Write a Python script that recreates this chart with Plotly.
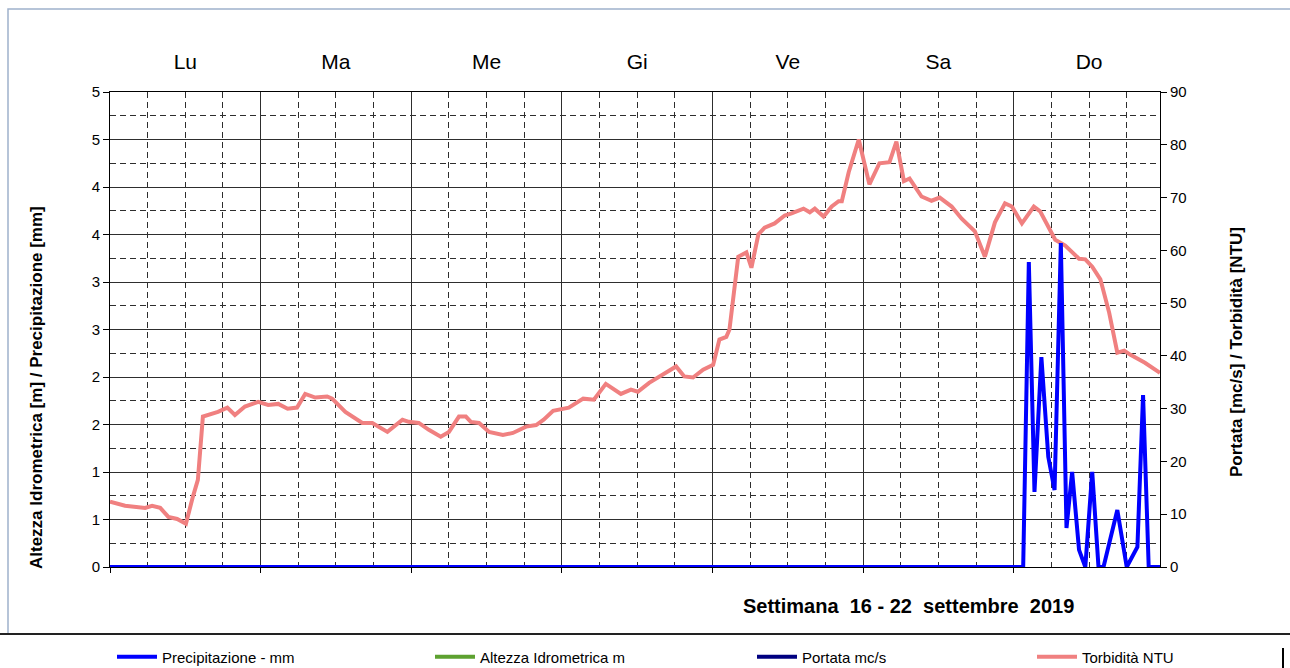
import plotly.graph_objects as go

# hours from Monday 00:00
days = ["Lu", "Ma", "Me", "Gi", "Ve", "Sa", "Do"]

torb_hours = [0.0, 2.4, 5.6, 6.7, 8.0, 9.3, 10.7, 12.1, 13.2, 14.0, 14.8, 15.6, 17.2, 18.7,
              19.9, 21.5, 23.6, 25.2, 26.8, 28.3, 29.8, 31.1, 32.7, 34.6, 35.4, 37.5, 40.2,
              41.8, 44.2, 46.6, 47.6, 49.2, 50.8, 52.7, 54.0, 55.6, 56.7, 57.5, 58.8, 60.4,
              62.6, 64.2, 66.3, 67.9, 69.1, 70.6, 72.3, 73.1, 75.4, 77.1, 79.0, 81.4, 83.0,
              84.1, 85.9, 88.1, 90.2, 91.5, 92.9, 94.5, 96.1, 97.1, 98.2, 98.7, 100.1, 101.4,
              102.2, 103.3, 104.3, 105.9, 107.5, 108.6, 110.5, 111.5, 112.3, 113.7, 115.0,
              116.1, 116.6, 117.7, 119.3, 121.0, 122.6, 124.2, 125.3, 126.5, 127.4, 129.3,
              130.9, 132.2, 134.1, 135.7, 137.8, 139.4, 141.0, 142.6, 143.7, 145.3, 147.2,
              148.2, 150.6, 152.2, 154.4, 155.4, 156.5, 157.8, 159.2, 160.5, 161.6, 162.6,
              164.9, 167.3]
torb_ntu = [12.4, 11.6, 11.2, 11.6, 11.2, 9.5, 9.1, 8.2, 13.3, 16.5, 28.5, 28.8, 29.4, 30.2,
            28.8, 30.4, 31.3, 30.7, 30.9, 30.0, 30.2, 32.8, 32.1, 32.3, 31.9, 29.4, 27.3,
            27.3, 25.6, 27.9, 27.5, 27.3, 26.0, 24.7, 25.6, 28.5, 28.5, 27.5, 27.3, 25.6,
            25.0, 25.4, 26.6, 26.9, 27.9, 29.6, 30.0, 30.2, 31.9, 31.7, 34.7, 32.8, 33.6,
            33.2, 34.9, 36.6, 38.0, 36.1, 35.9, 37.4, 38.3, 43.1, 43.6, 45.0, 58.8, 59.6,
            56.7, 63.0, 64.3, 65.1, 66.6, 67.0, 67.9, 67.2, 67.9, 66.4, 68.3,
            69.3, 69.3, 74.8, 81.0, 72.5, 76.5, 76.7, 80.6, 73.1, 73.6, 70.2,
            69.4, 70.0, 68.3, 66.0, 63.6, 58.8, 65.3, 68.9, 68.3, 65.1, 68.3,
            67.4, 62.0, 60.9, 58.4, 58.3, 56.9, 54.5, 48.2, 40.6, 41.0, 40.2,
            38.7, 36.8]

prec_hours = [0.0, 145.5, 146.4, 147.3, 148.4, 149.5, 150.5, 151.5, 152.4, 153.3, 154.4,
              155.4, 156.5, 157.5, 158.3, 160.5, 162.0, 163.7, 164.6, 165.5, 167.3]
prec_mm = [0, 0, 3.21, 0.79, 2.21, 1.16, 0.81, 3.41, 0.41, 1.00, 0.18,
           0, 1.00, 0, 0, 0.60, 0, 0.21, 1.81, 0, 0]

left_tickvals = [0, 0.5, 1, 1.5, 2, 2.5, 3, 3.5, 4, 4.5, 5]
left_ticktext = ["0", "1", "1", "2", "2", "3", "3", "4", "4", "5", "5"]

font = "Liberation Sans, Arial, sans-serif"
grid_col = "#2e2e2e"

fig = go.Figure()

fig.add_trace(go.Scatter(x=prec_hours, y=prec_mm, mode="lines", name="Precipitazione - mm",
                         line=dict(color="#0000ff", width=4), yaxis="y2", legend="legend"))
fig.add_trace(go.Scatter(x=[None], y=[None], mode="lines", name="Altezza Idrometrica m",
                         line=dict(color="#5da130", width=4), xaxis="x2", yaxis="y2",
                         legend="legend2"))
fig.add_trace(go.Scatter(x=[None], y=[None], mode="lines", name="Portata mc/s",
                         line=dict(color="#000080", width=4), xaxis="x2", legend="legend3"))
fig.add_trace(go.Scatter(x=torb_hours, y=torb_ntu, mode="lines", name="Torbidità NTU",
                         line=dict(color="#f08080", width=4), legend="legend4"))


def px_x(p):
    return (p - 110) / 1050


def px_y(p):
    return (567 - p) / 475


# legends sit in the strip under the black line
legend_common = dict(orientation="h", yanchor="middle", y=px_y(657), xanchor="left",
                     font=dict(family=font, size=15, color="#000"), bgcolor="rgba(0,0,0,0)",
                     itemwidth=40)

fig.update_layout(
    width=1290,
    height=668,
    margin=dict(l=110, r=130, t=92, b=101, autoexpand=False),
    paper_bgcolor="white",
    plot_bgcolor="white",
    font=dict(family=font, size=15, color="#000"),
    showlegend=True,
    legend=dict(legend_common, x=px_x(112)),
    legend2=dict(legend_common, x=px_x(430)),
    legend3=dict(legend_common, x=px_x(752)),
    legend4=dict(legend_common, x=px_x(1032)),
    xaxis=dict(
        range=[0, 167.3], automargin=False,
        tick0=0, dtick=24,
        showticklabels=False,
        ticks="outside", ticklen=5, tickcolor="#000",
        showgrid=True, gridcolor=grid_col, gridwidth=1,
        minor=dict(tick0=0, dtick=6, showgrid=True, gridcolor=grid_col,
                   griddash="6px,4px", gridwidth=1),
        showline=True, linecolor="#000", linewidth=1, mirror=True,
        zeroline=False,
    ),
    xaxis2=dict(
        overlaying="x", side="top", range=[0, 167.3], automargin=False,
        tickvals=[24 * i + 12 for i in range(len(days))], ticktext=days,
        ticks="outside", ticklen=14, tickcolor="rgba(0,0,0,0)",
        tickfont=dict(size=21, family=font),
        showgrid=False, showline=False, zeroline=False,
    ),
    yaxis=dict(
        side="right", range=[0, 90], dtick=10, automargin=False,
        ticks="outside", ticklen=6, tickcolor="#000",
        showgrid=False, zeroline=False,
        showline=True, linecolor="#000", linewidth=1,
    ),
    yaxis2=dict(
        overlaying="y", side="left", range=[0, 5], automargin=False,
        tickvals=left_tickvals, ticktext=left_ticktext,
        ticks="outside", ticklen=6, tickcolor="#000",
        showgrid=True, gridcolor=grid_col, gridwidth=1,
        minor=dict(tick0=0, dtick=0.25, showgrid=True, gridcolor=grid_col,
                   griddash="6px,4px", gridwidth=1),
        zeroline=False,
        showline=True, linecolor="#000", linewidth=1,
    ),
    annotations=[
        dict(text="<b>Settimana  16 - 22  settembre  2019</b>", xref="paper", yref="paper",
             x=px_x(908), y=px_y(606), xanchor="center", yanchor="middle",
             showarrow=False, font=dict(size=20, family=font)),
        # axis titles, placed where the original puts them (not centred on the plot)
        dict(text="<b>Altezza Idrometrica [m] / Precipitazione [mm]</b>", xref="paper",
             yref="paper", x=px_x(36), y=px_y(388), xanchor="center", yanchor="middle",
             textangle=-90, showarrow=False, font=dict(size=17, family=font)),
        dict(text="<b>Portata [mc/s] / Torbidità [NTU]</b>", xref="paper",
             yref="paper", x=px_x(1237), y=px_y(352), xanchor="center", yanchor="middle",
             textangle=-90, showarrow=False, font=dict(size=17, family=font)),
    ],
    shapes=[
        # outer frame of the chart area
        dict(type="rect", xref="paper", yref="paper", x0=px_x(8), x1=px_x(1300),
             y0=px_y(634), y1=px_y(9), line=dict(color="#9fb1cc", width=1.5)),
        dict(type="line", xref="paper", yref="paper", x0=px_x(0), x1=px_x(1290),
             y0=px_y(634), y1=px_y(634), line=dict(color="#222", width=2)),
        dict(type="line", xref="paper", yref="paper", x0=px_x(1283), x1=px_x(1283),
             y0=px_y(648), y1=px_y(668), line=dict(color="#000", width=2)),
    ],
)

fig.write_html("out.html", config={"displayModeBar": False},
               post_script="document.body.style.margin='0';")
